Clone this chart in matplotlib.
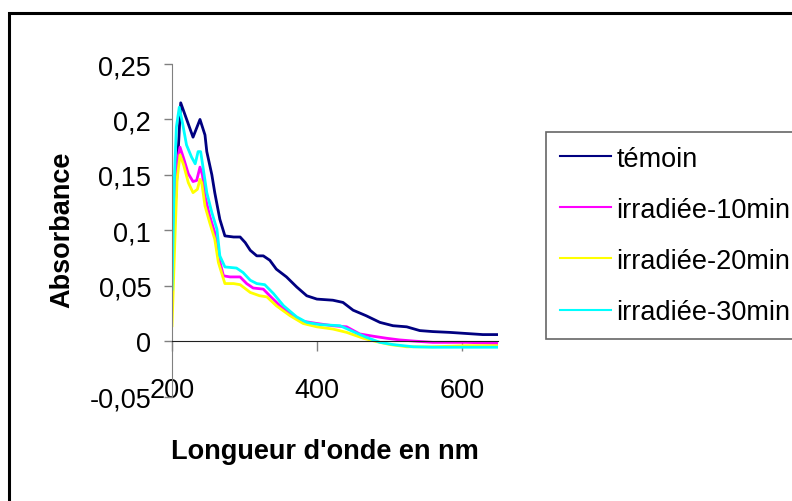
import matplotlib
matplotlib.use("Agg")
import matplotlib.pyplot as plt
from matplotlib.patches import Rectangle

plt.rcParams['font.family'] = ['Liberation Sans', 'DejaVu Sans']

# spectra (nm, absorbance)
x_temoin = [200, 212, 229, 238.6, 245.5, 248, 255, 259, 266, 273, 285, 294, 301, 308, 317, 326,
            335, 344, 358, 372, 386, 400, 422, 436, 450, 468, 487, 505, 524, 542, 560, 583,
            606, 629, 650]
y_temoin = [0.065, 0.215, 0.184, 0.200, 0.186, 0.171, 0.150, 0.134, 0.110, 0.095, 0.094, 0.094,
            0.089, 0.082, 0.077, 0.077, 0.073, 0.065, 0.058, 0.049, 0.041, 0.038, 0.037, 0.035,
            0.028, 0.023, 0.017, 0.014, 0.013, 0.0096, 0.0087, 0.008, 0.007, 0.006, 0.006]

x_10 = [200, 204, 208, 211, 216, 222.5, 229, 234, 238.6, 242, 245.5, 252, 259, 264, 271, 280,
        294, 303, 312, 326, 335, 349, 367, 381, 400, 422, 441, 459, 478, 496, 514, 537, 560,
        606, 650]
y_10 = [0.062, 0.128, 0.165, 0.175, 0.165, 0.151, 0.144, 0.145, 0.157, 0.150, 0.131, 0.113,
        0.098, 0.077, 0.059, 0.058, 0.058, 0.052, 0.048, 0.047, 0.041, 0.032, 0.023, 0.018,
        0.016, 0.014, 0.013, 0.0066, 0.0045, 0.0027, 0.0012, 0.0, -0.001, -0.001, -0.002]

x_20 = [200, 204, 207, 211, 216, 222.5, 229, 235, 238.6, 241, 245.5, 252, 259, 264, 273, 285,
        294, 308, 321, 331, 344, 363, 381, 400, 422, 441, 464, 482, 501, 524, 560, 606, 650]
y_20 = [0.014, 0.092, 0.146, 0.168, 0.159, 0.143, 0.134, 0.137, 0.146, 0.143, 0.122, 0.107,
        0.092, 0.071, 0.052, 0.052, 0.051, 0.044, 0.041, 0.040, 0.032, 0.023, 0.016, 0.013,
        0.011, 0.008, 0.0027, -0.0003, -0.003, -0.005, -0.005, -0.004, -0.004]

x_30 = [200, 203, 206, 210, 215, 220, 227, 232, 236, 239.5, 243, 248, 255, 262, 266, 273, 289,
        298, 308, 317, 328, 340, 354, 372, 386, 404, 432, 450, 468, 487, 505, 533, 560, 606,
        650]
y_30 = [0.047, 0.143, 0.193, 0.211, 0.195, 0.177, 0.166, 0.160, 0.171, 0.171, 0.156, 0.134,
        0.116, 0.101, 0.077, 0.067, 0.066, 0.062, 0.055, 0.052, 0.051, 0.043, 0.032, 0.022,
        0.017, 0.015, 0.014, 0.0087, 0.0036, -0.001, -0.003, -0.005, -0.0054, -0.0054, -0.0054]

yticks = [-0.05, 0, 0.05, 0.1, 0.15, 0.2, 0.25]
ytick_labels = ['-0,05', '0', '0,05', '0,1', '0,15', '0,2', '0,25']
xticks = [200, 400, 600]

fig = plt.figure(figsize=(7.92, 5.02), dpi=100)
ax = fig.add_axes([0.2172, 0.2078, 0.4116, 0.6627])

ax.plot(x_temoin, y_temoin, color='#000080', lw=2.0, label='témoin')
ax.plot(x_10, y_10, color='#FF00FF', lw=2.0, label='irradiée-10min')
ax.plot(x_20, y_20, color='#FFFF00', lw=2.0, label='irradiée-20min')
ax.plot(x_30, y_30, color='#00FFFF', lw=2.0, label='irradiée-30min')

ax.set_xlim(200, 650)
ax.set_ylim(-0.05, 0.25)
ax.set_yticks(yticks)
ax.set_yticklabels(ytick_labels)
ax.set_xticks(xticks)

ax.spines['top'].set_visible(False)
ax.spines['right'].set_visible(False)
ax.spines['bottom'].set_position(('data', 0))
ax.spines['bottom'].set_color('#202020')
ax.spines['left'].set_color('#808080')
ax.tick_params(axis='y', length=6, width=1, color='#808080', pad=9, labelsize=19.5)
ax.tick_params(axis='x', length=7, width=1, color='#808080', pad=19, labelsize=19.5)

ax.set_xlabel("Longueur d'onde en nm", fontsize=19.5, fontweight='bold')
ax.set_ylabel('Absorbance', fontsize=19.5, fontweight='bold')
ax.xaxis.set_label_coords(0.47, -0.163)
ax.yaxis.set_label_coords(-0.337, 0.504)
ax.xaxis.label.set_va('center')
ax.yaxis.label.set_va('center')

leg = fig.legend(loc='upper left', bbox_to_anchor=(546 / 792, 1 - 133 / 502), fontsize=19.5,
                 frameon=True, fancybox=False, handlelength=1.9, handletextpad=0.2,
                 labelspacing=0.93, borderpad=0.5, borderaxespad=0)
leg.get_frame().set_edgecolor('#404040')
leg.get_frame().set_linewidth(1.2)
for h in leg.get_lines():
    h.set_linewidth(1.5)

# chart area border
fig.patches.append(Rectangle((9 / 792, -0.1), 1.2, 1 - 14 / 502 + 0.1, transform=fig.transFigure,
                             fill=False, edgecolor='black', lw=2.2, figure=fig))

fig.savefig('out.png', dpi=100)
